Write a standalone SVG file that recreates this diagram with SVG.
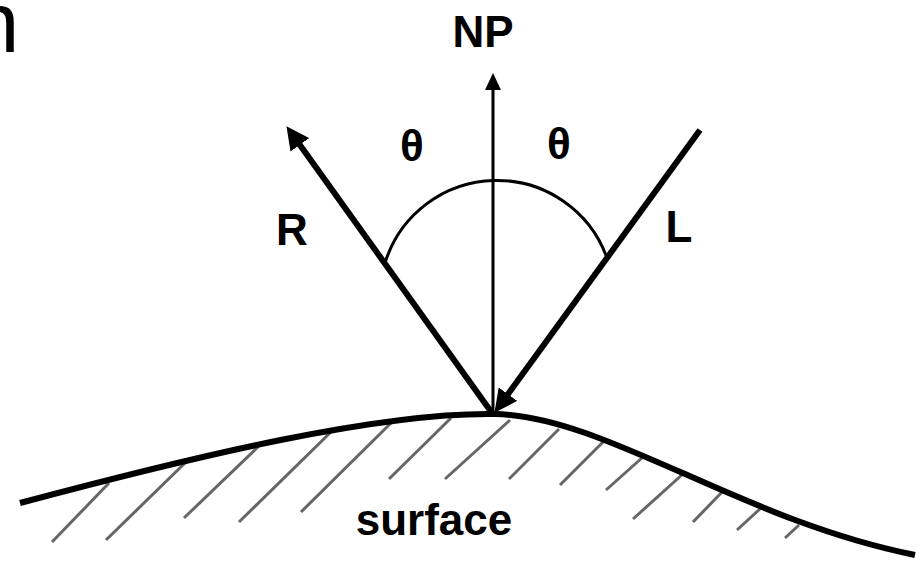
<svg xmlns="http://www.w3.org/2000/svg" width="919" height="563" viewBox="0 0 919 563">
<style>
.lbl{font-family:"Liberation Sans",Arial,sans-serif;font-weight:bold;font-size:44px;fill:#000}
.thick{stroke:#000;stroke-width:6;fill:none}
.thin{stroke:#000;stroke-width:3;fill:none}
.hatch{stroke:#666;stroke-width:3;fill:none}
</style>
<defs>
<marker id="bigArrow" markerUnits="userSpaceOnUse" markerWidth="23" markerHeight="23" refX="2" refY="11.5" orient="auto">
<path d="M0,0 L23,11.5 L0,23 z" fill="#000"/>
</marker>
<marker id="smallArrow" markerUnits="userSpaceOnUse" markerWidth="17" markerHeight="16" refX="2" refY="8" orient="auto">
<path d="M0,0 L17,8 L0,16 z" fill="#000"/>
</marker>
</defs>
<rect width="919" height="563" fill="#fff"/>
<text x="-28" y="52" style="font-family:'Liberation Sans',Arial,sans-serif;font-size:85px">n</text>
<g id="surface">
<g id="hatching">
<line class="hatch" x1="109" y1="483" x2="52" y2="542"/>
<line class="hatch" x1="186" y1="462" x2="106" y2="540"/>
<line class="hatch" x1="260" y1="445" x2="184" y2="518"/>
<line class="hatch" x1="333" y1="430" x2="239" y2="522"/>
<line class="hatch" x1="392" y1="422" x2="301" y2="512"/>
<line class="hatch" x1="451" y1="418" x2="389" y2="479"/>
<line class="hatch" x1="510" y1="420" x2="445" y2="479"/>
<line class="hatch" x1="559" y1="429" x2="509" y2="479"/>
<line class="hatch" x1="603" y1="442" x2="560" y2="485"/>
<line class="hatch" x1="643" y1="457" x2="606" y2="490"/>
<line class="hatch" x1="684" y1="473" x2="633" y2="519"/>
<line class="hatch" x1="724" y1="490" x2="693" y2="522"/>
<line class="hatch" x1="761" y1="508" x2="737" y2="530"/>
<line class="hatch" x1="799" y1="525" x2="785" y2="538"/>
</g>
<path class="thick" d="M20,503 C200,455 380,412 495,414 C605,416 740,520 915,555"/>
<text class="lbl" x="434" y="535" text-anchor="middle">surface</text>
</g>
<g id="connectors">
<line class="thin" x1="493" y1="413" x2="493" y2="88" marker-end="url(#smallArrow)"/>
<line class="thick" x1="492" y1="413" x2="298.7" y2="143.2" marker-end="url(#bigArrow)"/>
<line class="thick" x1="700" y1="130" x2="506.8" y2="395.8" marker-end="url(#bigArrow)"/>
<path class="thin" d="M385,263 A117,117 0 0 1 607,258" stroke-width="2.5"/>
</g>
<g id="labels">
<text class="lbl" x="483" y="47" text-anchor="middle">NP</text>
<text class="lbl" x="412" y="161" text-anchor="middle" font-size="46">θ</text>
<text class="lbl" x="559" y="159" text-anchor="middle" font-size="46">θ</text>
<text class="lbl" x="292" y="245" text-anchor="middle">R</text>
<text class="lbl" x="679" y="242" text-anchor="middle">L</text>
</g>
</svg>
